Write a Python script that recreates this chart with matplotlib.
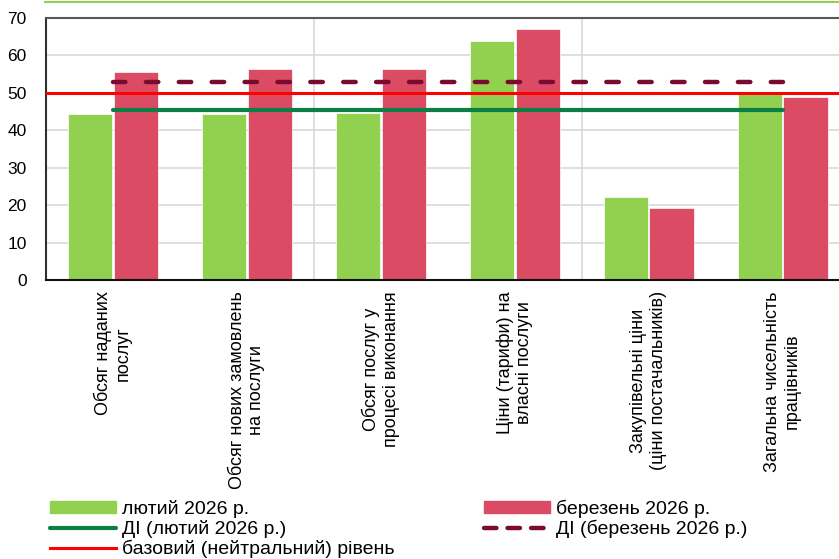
import matplotlib
matplotlib.use("Agg")
import matplotlib.pyplot as plt
from matplotlib.lines import Line2D
import numpy as np

plt.rcParams['font.family'] = ['Liberation Sans', 'DejaVu Sans']

categories = ["Обсяг наданих\nпослуг",
              "Обсяг нових замовлень\nна послуги",
              "Обсяг послуг у\nпроцесі виконання",
              "Ціни (тарифи) на\nвласні послуги",
              "Закупівельні ціни\n(ціни постачальників)",
              "Загальна чисельність\nпрацівників"]
feb_values = [44.3, 44.3, 44.7, 63.9, 22.1, 49.6]
mar_values = [55.6, 56.4, 56.4, 67.2, 19.3, 48.8]
di_feb = 45.4
di_mar = 52.9
neutral = 50

c_feb = "#92D050"
c_mar = "#DB4C64"
c_di_feb = "#0B7F45"
c_di_mar = "#7A0A30"

fig = plt.figure(figsize=(8.39, 5.59), dpi=100)
ax = fig.add_axes([0.0548, 0.499, 0.958, 0.4687])

x = np.arange(len(categories))
w = 0.33
ax.bar(x - 0.17, feb_values, w, color=c_feb, edgecolor="white", linewidth=0.5, zorder=2)
ax.bar(x + 0.17, mar_values, w, color=c_mar, edgecolor="white", linewidth=0.5, zorder=2)

ax.plot(x, [di_feb] * len(x), color=c_di_feb, lw=3, solid_capstyle="round", zorder=3)
ax.plot(x, [di_mar] * len(x), color=c_di_mar, lw=3.2, dashes=(2.8, 4.6),
        dash_capstyle="round", zorder=3)
ax.axhline(neutral, color="#FF0000", lw=2.2, zorder=4)

ax.set_xlim(-0.5, 5.5)
ax.set_ylim(0, 70)
ax.set_yticks(range(0, 71, 10))
ax.set_xticks(x)
ax.set_xticklabels(categories, rotation=90, ha="center", multialignment="center",
                   fontsize=13)
ax.set_xticks([1.5, 3.5], minor=True)
ax.tick_params(axis="both", which="both", length=0)
ax.tick_params(axis="y", pad=14, labelsize=12.5)
ax.tick_params(axis="x", pad=8)
ax.grid(axis="y", color="#D9D9D9", lw=1.2, zorder=0)
ax.grid(axis="x", which="minor", color="#D9D9D9", lw=1.2, zorder=0)
ax.set_axisbelow(True)

ax.spines["left"].set_color("#303030")
ax.spines["left"].set_linewidth(1.5)
ax.spines["top"].set_color("#595959")
ax.spines["top"].set_linewidth(1.5)
ax.spines["bottom"].set_color("#111111")
ax.spines["bottom"].set_linewidth(1.5)
ax.spines["right"].set_visible(False)

# thin green line at the very top
fig.add_artist(Line2D([0.054, 1.0], [0.996, 0.996], color=c_feb, lw=1.5))

handles = [
    plt.Rectangle((0, 0), 1, 1, color=c_feb),
    Line2D([], [], color=c_di_feb, lw=3, solid_capstyle="round"),
    Line2D([], [], color="#FF0000", lw=2.2),
    plt.Rectangle((0, 0), 1, 1, color=c_mar),
    Line2D([], [], color=c_di_mar, lw=3.2, dashes=(2.8, 2.5), dash_capstyle="round"),
]
labels = ["лютий 2026 р.", "ДІ (лютий 2026 р.)", "базовий (нейтральний) рівень",
          "березень 2026 р.", "ДІ (березень 2026 р.)"]
fig.legend(handles, labels, ncol=2, loc="upper left", bbox_to_anchor=(0.0596, 0.106),
           frameon=False, fontsize=14, handlelength=3.4, handleheight=0.55,
           handletextpad=0.3, labelspacing=0.1, columnspacing=4.6,
           borderpad=0, borderaxespad=0)

fig.savefig("out.png", dpi=100)
